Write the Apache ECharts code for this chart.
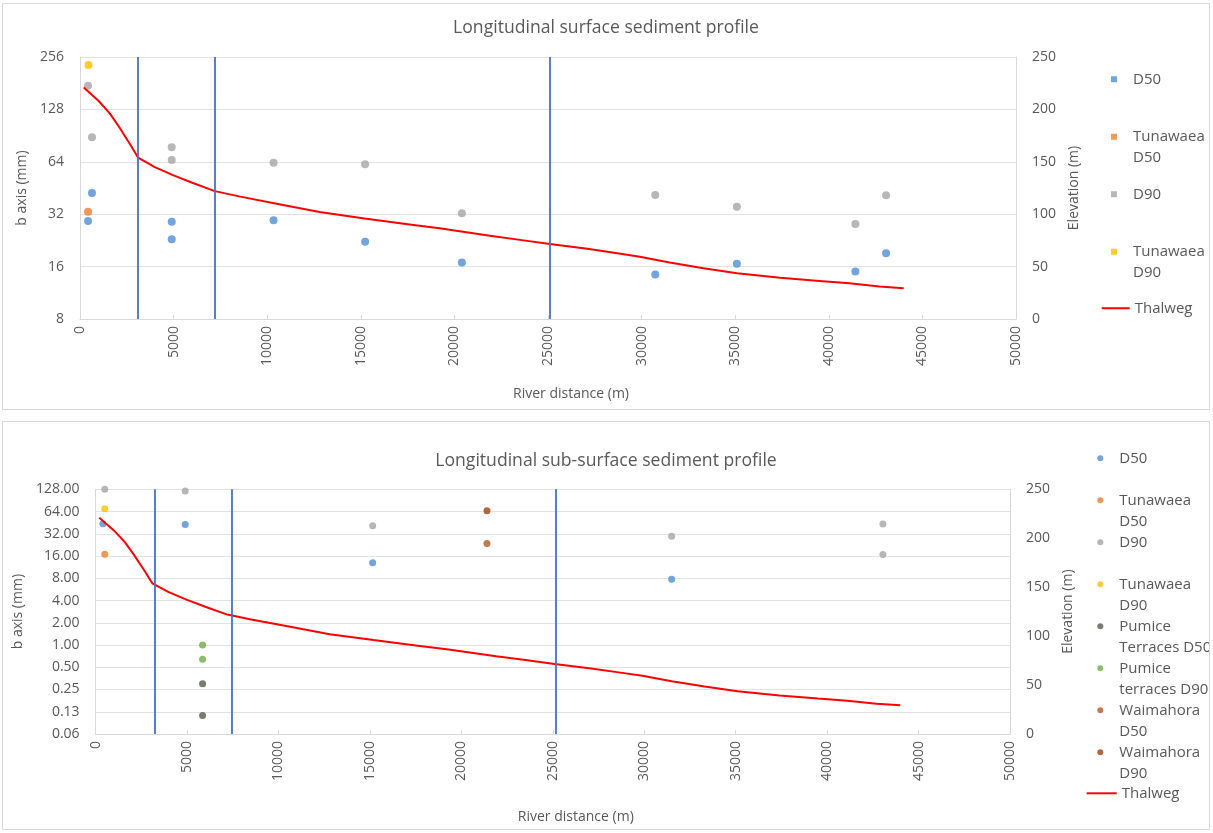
<!DOCTYPE html>
<html><head><meta charset="utf-8">
<script src="https://cdn.jsdelivr.net/npm/echarts@6/dist/echarts.min.js"></script>
<style>
html,body{margin:0;padding:0;background:#fff;width:1213px;height:833px;overflow:hidden}
.box{position:absolute;left:2px;width:1208px;border:1px solid #d9d9d9;box-sizing:border-box;background:#fff}
#c1{top:3px;height:407px}
#c2{top:421px;height:409px}
</style></head><body>
<div id="c1" class="box"></div>
<div id="c2" class="box"></div>
<script>
// ---------- data ----------
const xTicks = [0,5000,10000,15000,20000,25000,30000,35000,40000,45000,50000];
const elevTicks = [0,50,100,150,200,250];
const surfLeftTicks = ['8','16','32','64','128','256'];
const subLeftTicks = ['0.06','0.13','0.25','0.50','1.00','2.00','4.00','8.00','16.00','32.00','64.00','128.00'];

// vertical reference lines (river distance, m)
const surfRefLines = [3070, 7210, 25100];
const subRefLines = [3260, 7470, 25150];

// Thalweg: river distance (m), elevation (m)
const thalwegX = [200,1000,1600,2100,2700,3100,4000,5000,6000,7200,8500,10500,12800,15200,17500,19200,21900,23500,25100,27100,28700,29900,31500,33300,35100,37400,39500,41100,42700,44000];
const thalwegZ = [221,208,196,183,166,154,145,137,130,122,117,110,102,96,90.5,86.5,79.5,75.5,71.5,67,62.7,59.5,54,48.5,43.6,39.4,36.3,34,31,29.3];

// Surface sediment (distance m, b axis mm)
const surfD50 = [[430,29.2],[640,42.4],[4900,29.0],[4900,23.0],[10340,29.5],[15230,22.2],[20400,16.9],[30730,14.4],[35090,16.6],[41420,15.0],[43060,19.1]];
const surfTunD50 = [[430,33.1]];
const surfD90 = [[430,175],[640,88.5],[4900,77.5],[4900,65.5],[10340,63.2],[15230,61.9],[20400,32.4],[30730,41.2],[35090,35.3],[41420,28.1],[43060,41.1]];
const surfTunD90 = [[450,230]];

// Sub-surface sediment (distance m, b axis mm)
const subD50 = [[400,43.7],[4900,42.8],[15150,13.0],[31500,7.75]];
const subTunD50 = [[500,16.9]];
const subD90 = [[500,128],[4900,121],[15150,41.2],[31500,29.6],[43050,43.3],[43050,16.8]];
const subTunD90 = [[500,69.6]];
const subPumD50 = [[5850,0.30],[5850,0.111]];
const subPumD90 = [[5850,1.0],[5850,0.64]];
const subWaiD50 = [[21400,23.6]];
const subWaiD90 = [[21400,65.4]];

// ---------- helpers ----------
const FONT = '"Open Sans","Noto Sans",sans-serif';
const GREY = '#595959';
const log2pts = arr => arr.map(p => [p[0], Math.log2(p[1])]);
const thalweg = thalwegX.map((x,i) => [x, thalwegZ[i]]);
const wrapName = n => { const i = n.indexOf(' '); return i < 0 ? n + '\n\u00a0' : n.slice(0,i) + '\n' + n.slice(i+1); };

function xAxisCfg(gap) {
  return {
    type:'value', min:xTicks[0], max:xTicks[xTicks.length-1], interval:xTicks[1]-xTicks[0],
    axisLine:{onZero:false, lineStyle:{color:'#d9d9d9'}},
    axisTick:{show:true, inside:true, length:4, lineStyle:{color:'#d9d9d9'}},
    axisLabel:{rotate:90, color:GREY, fontSize:14, fontFamily:FONT, margin:7, formatter: v => String(v)},
    splitLine:{show:false},
    name:'River distance (m)', nameLocation:'middle', nameGap:gap,
    nameTextStyle:{color:GREY, fontSize:14, fontFamily:FONT, padding:[0,0,0,46]}
  };
}
function leftAxisCfg(labels, minExp, gap) {
  return {
    type:'value', min:minExp, max:minExp + labels.length - 1, interval:1,
    axisLine:{show:true, onZero:false, lineStyle:{color:'#d9d9d9'}},
    axisTick:{show:false},
    axisLabel:{color:GREY, fontSize:14, fontFamily:FONT, margin:16,
      formatter: v => labels[Math.round(v - minExp)]},
    splitLine:{show:true, lineStyle:{color:'#e3e3e3'}},
    name:'b axis (mm)', nameLocation:'middle', nameGap:gap,
    nameTextStyle:{color:GREY, fontSize:14, fontFamily:FONT}
  };
}
function rightAxisCfg(gap) {
  return {
    type:'value', position:'right', min:elevTicks[0], max:elevTicks[elevTicks.length-1], interval:elevTicks[1]-elevTicks[0],
    axisLine:{show:true, onZero:false, lineStyle:{color:'#d9d9d9'}},
    axisTick:{show:false},
    axisLabel:{color:GREY, fontSize:14, fontFamily:FONT, margin:16},
    splitLine:{show:false},
    name:'Elevation (m)', nameLocation:'middle', nameGap:gap,
    nameTextStyle:{color:GREY, fontSize:14, fontFamily:FONT}
  };
}
function scatter(name, data, color, size) {
  return {name, type:'scatter', data:log2pts(data), yAxisIndex:0, symbol:'circle', symbolSize:size,
    itemStyle:{color}, z:3};
}
function thalwegSeries(lines) {
  return {name:'Thalweg', type:'line', data:thalweg, yAxisIndex:1, symbol:'none',
    lineStyle:{color:'#FF0000', width:2}, itemStyle:{color:'#FF0000'}, z:4,
    markLine:{silent:true, symbol:['none','none'], label:{show:false},
      lineStyle:{color:'#4472C4', width:1.8, type:'solid'},
      data: lines.map(x => ({xAxis:x}))}};
}

// ---------- chart 1 ----------
const ch1 = echarts.init(document.getElementById('c1'));
const sq = 'path://M0,0M28,41M11,7.25h6v6h-6z';
ch1.setOption({
  animation:false,
  title:{text:'Longitudinal surface sediment profile', left:'center', top:15, padding:0,
    textStyle:{fontSize:17.6, fontWeight:'normal', color:GREY, fontFamily:FONT}},
  grid:{left:77, top:53, width:936, height:262},
  legend:[
    {orient:'vertical', left:1097, top:65, padding:0, itemWidth:28, itemHeight:41, itemGap:16.5,
     data:['D50','Tunawaea D50','D90','Tunawaea D90'].map(n => ({name:n, icon:sq})),
     formatter:wrapName, selectedMode:false,
     textStyle:{color:GREY, fontSize:15, fontFamily:FONT, lineHeight:20.5}},
    {orient:'vertical', left:1098.7, top:294, padding:0, itemWidth:28, itemHeight:20.5,
     data:[{name:'Thalweg', icon:'path://M0,0h28v2h-28z'}], selectedMode:false,
     textStyle:{color:GREY, fontSize:15, fontFamily:FONT, lineHeight:20.5}}
  ],
  xAxis:xAxisCfg(68),
  yAxis:[leftAxisCfg(surfLeftTicks, 3, 42), rightAxisCfg(51)],
  series:[
    scatter('D50', surfD50, '#4E8FD3', 8),
    scatter('Tunawaea D50', surfTunD50, '#ED7D31', 8),
    scatter('D90', surfD90, '#A5A5A5', 8),
    scatter('Tunawaea D90', surfTunD90, '#FFC000', 8),
    thalwegSeries(surfRefLines)
  ]
});

// ---------- chart 2 ----------
const ch2 = echarts.init(document.getElementById('c2'));
const ci = 'path://M0,0M28,42M11,10.5a3,3 0 1,0 6,0a3,3 0 1,0 -6,0z';
ch2.setOption({
  animation:false,
  title:{text:'Longitudinal sub-surface sediment profile', left:'center', top:29.5, padding:0,
    textStyle:{fontSize:17.6, fontWeight:'normal', color:GREY, fontFamily:FONT}},
  grid:{left:88.5, top:67.3, width:918.5, height:246.7},
  legend:[
    {orient:'vertical', left:1083.3, top:25.8, padding:0, itemWidth:28, itemHeight:42, itemGap:0,
     data:['D50','Tunawaea D50','D90','Tunawaea D90','Pumice Terraces D50','Pumice terraces D90','Waimahora D50','Waimahora D90'].map(n => ({name:n, icon:ci})),
     formatter:wrapName, selectedMode:false,
     textStyle:{color:GREY, fontSize:15, fontFamily:FONT, lineHeight:21}},
    {orient:'vertical', left:1083.7, top:360.8, padding:0, itemWidth:30, itemHeight:21,
     data:[{name:'Thalweg', icon:'path://M0,0h30v2h-30z'}], selectedMode:false,
     textStyle:{color:GREY, fontSize:15, fontFamily:FONT, lineHeight:21}}
  ],
  xAxis:xAxisCfg(76),
  yAxis:[leftAxisCfg(subLeftTicks, -4, 68), rightAxisCfg(48.5)],
  series:[
    scatter('D50', subD50, '#4E8FD3', 7),
    scatter('Tunawaea D50', subTunD50, '#ED7D31', 7),
    scatter('D90', subD90, '#A5A5A5', 7),
    scatter('Tunawaea D90', subTunD90, '#FFC000', 7),
    scatter('Pumice Terraces D50', subPumD50, '#585d4c', 7),
    scatter('Pumice terraces D90', subPumD90, '#70AD47', 7),
    scatter('Waimahora D50', subWaiD50, '#B55A1F', 7),
    scatter('Waimahora D90', subWaiD90, '#9E420F', 7),
    thalwegSeries(subRefLines)
  ]
});
</script>
</body></html>
